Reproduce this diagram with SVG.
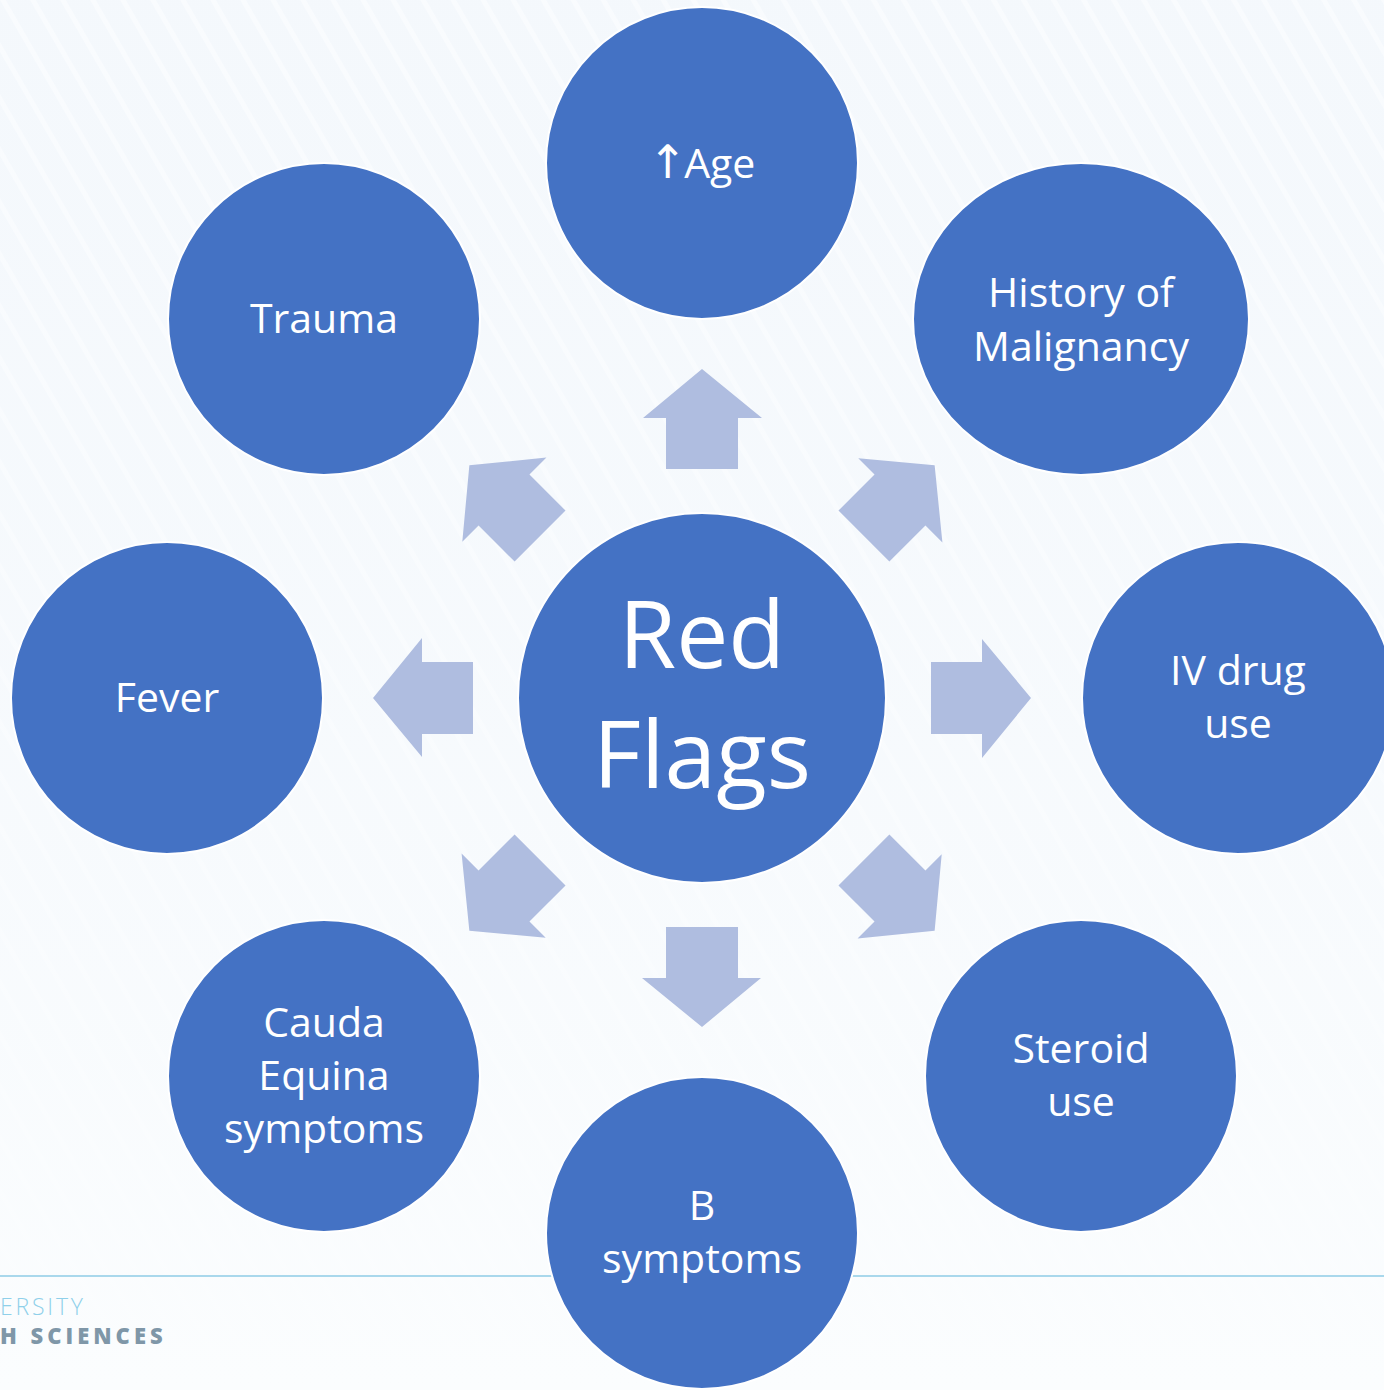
<svg xmlns="http://www.w3.org/2000/svg" width="1384" height="1390" viewBox="0 0 1384 1390">
<style>
.node{fill:#4472c4;stroke:#ffffff;stroke-width:2}
.lbl{font-family:"Open Sans","Noto Sans",sans-serif;font-size:41px;fill:#ffffff;text-anchor:middle}
.big{font-size:93px}
.arr{fill:#afbde0}
</style>
<defs>
<pattern id="stripes" width="26" height="26" patternUnits="userSpaceOnUse" patternTransform="rotate(-30)">
<rect width="26" height="26" fill="#f4f8fc"/>
<rect x="0" y="0" width="5" height="26" fill="#ffffff" opacity="0.55"/>
</pattern>
<linearGradient id="fade" x1="0" y1="0" x2="0" y2="1">
<stop offset="0" stop-color="#f5f9fd" stop-opacity="0.2"/>
<stop offset="1" stop-color="#fbfdfe" stop-opacity="1"/>
</linearGradient>
<path id="arrowUp" d="M702,369 L762,418 L738,418 L738,469 L666,469 L666,418 L643,418 Z"/>
</defs>
<rect width="1384" height="1390" fill="url(#stripes)"/>
<rect width="1384" height="1390" fill="url(#fade)"/>
<line x1="0" y1="1276" x2="1384" y2="1276" stroke="#a9d8ec" stroke-width="2"/>
<text x="0" y="1315" font-family="'Open Sans','Noto Sans',sans-serif" font-weight="300" font-size="23" letter-spacing="2.8" fill="#8fd0ea">ERSITY</text>
<text x="0" y="1344" font-family="'Open Sans','Noto Sans',sans-serif" font-weight="800" font-size="22" letter-spacing="4" fill="#7f97a8">H SCIENCES</text>
<g id="connectors">
<use href="#arrowUp" class="arr"/>
<use href="#arrowUp" class="arr" transform="rotate(45 702 698)"/>
<use href="#arrowUp" class="arr" transform="rotate(90 702 698)"/>
<use href="#arrowUp" class="arr" transform="rotate(135 702 698)"/>
<use href="#arrowUp" class="arr" transform="rotate(180 702 698)"/>
<use href="#arrowUp" class="arr" transform="rotate(225 702 698)"/>
<use href="#arrowUp" class="arr" transform="rotate(270 702 698)"/>
<use href="#arrowUp" class="arr" transform="rotate(315 702 698)"/>
</g>
<g id="center">
<ellipse class="node" cx="702" cy="698" rx="184" ry="185"/>
<text class="lbl big" x="702" y="668">Red</text>
<text class="lbl big" x="702" y="788">Flags</text>
</g>
<g id="age">
<circle class="node" cx="702" cy="163" r="156"/>
<text class="lbl" x="702" y="178"><tspan font-family="'DejaVu Sans',sans-serif" font-size="46">↑</tspan><tspan dx="-3">Age</tspan></text>
</g>
<g id="history">
<ellipse class="node" cx="1081" cy="319" rx="168" ry="156"/>
<text class="lbl" x="1081" y="307">History of</text>
<text class="lbl" x="1081" y="361">Malignancy</text>
</g>
<g id="iv">
<circle class="node" cx="1238" cy="698" r="156"/>
<text class="lbl" x="1238" y="685">IV drug</text>
<text class="lbl" x="1238" y="738">use</text>
</g>
<g id="steroid">
<circle class="node" cx="1081" cy="1076" r="156"/>
<text class="lbl" x="1081" y="1063">Steroid</text>
<text class="lbl" x="1081" y="1116">use</text>
</g>
<g id="bsym">
<circle class="node" cx="702" cy="1233" r="156"/>
<text class="lbl" x="702" y="1220">B</text>
<text class="lbl" x="702" y="1273">symptoms</text>
</g>
<g id="cauda">
<circle class="node" cx="324" cy="1076" r="156"/>
<text class="lbl" x="324" y="1037">Cauda</text>
<text class="lbl" x="324" y="1090">Equina</text>
<text class="lbl" x="324" y="1143">symptoms</text>
</g>
<g id="fever">
<circle class="node" cx="167" cy="698" r="156"/>
<text class="lbl" x="167" y="712">Fever</text>
</g>
<g id="trauma">
<circle class="node" cx="324" cy="319" r="156"/>
<text class="lbl" x="324" y="333">Trauma</text>
</g>
</svg>
